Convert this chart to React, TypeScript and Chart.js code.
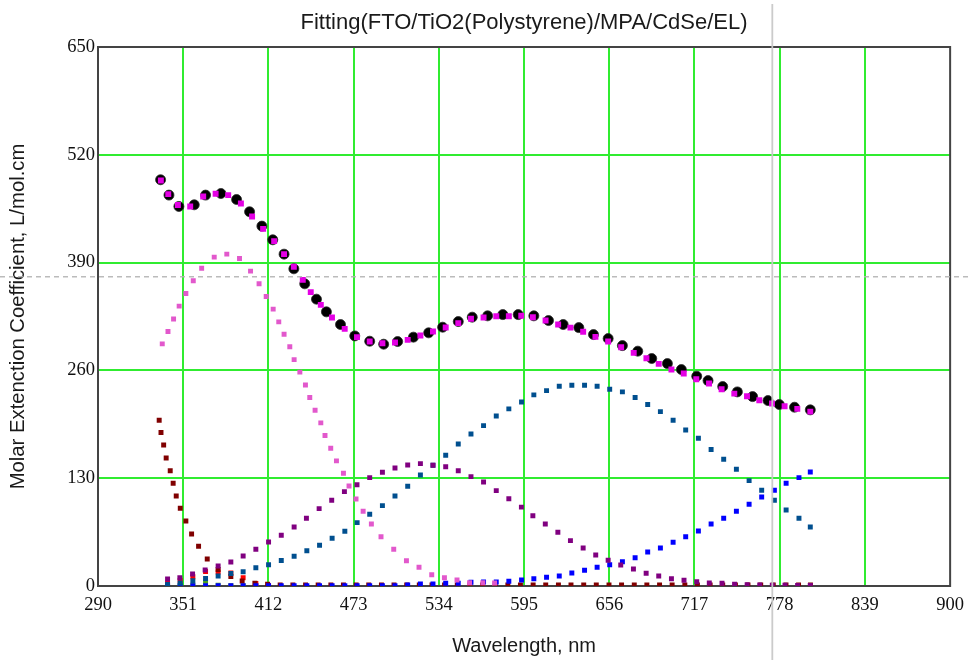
import React, { useEffect, useRef } from "react";
import { Chart, registerables } from "chart.js";

Chart.register(...registerables);

const chartTitle = "Fitting(FTO/TiO2(Polystyrene)/MPA/CdSe/EL)";
const xAxisTitle = "Wavelength, nm";
const yAxisTitle = "Molar Extenction Coefficient, L/mol.cm";
const xTickValues = [290, 351, 412, 473, 534, 595, 656, 717, 778, 839, 900];
const yTickValues = [0, 130, 260, 390, 520, 650];
const cursorNm = 772.7;
const cursorValue = 373;

// Measured spectrum (black circles)
const measuredNm = [334.8, 340.8, 347.9, 358.9, 367.0, 378.0, 389.2, 398.5, 407.3, 415.1, 423.2, 430.2, 438.0, 446.4, 453.5, 463.6, 473.8, 484.5, 494.5, 504.5, 515.8, 526.7, 536.7, 547.9, 557.9, 568.9, 579.8, 590.8, 602.0, 612.5, 623.0, 634.2, 644.7, 655.2, 665.4, 676.4, 686.4, 697.6, 707.6, 718.6, 726.7, 737.2, 747.7, 758.6, 769.6, 777.7, 788.6, 799.9];
const measuredValue = [489.9, 471.4, 457.7, 459.7, 471.4, 473.3, 466.1, 451.3, 434.0, 417.5, 400.2, 382.5, 364.4, 345.9, 330.6, 315.3, 301.6, 295.2, 291.6, 294.8, 300.1, 305.3, 312.1, 318.9, 324.2, 325.8, 327.3, 327.3, 325.8, 320.1, 315.3, 311.6, 303.2, 298.4, 289.9, 283.2, 274.3, 268.2, 261.0, 253.0, 247.7, 240.5, 234.1, 228.4, 223.6, 218.8, 215.6, 212.4];

// Fit sum (magenta squares)
const fitNm = [335.0, 340.3, 347.2, 356.0, 365.3, 374.2, 383.2, 392.3, 400.3, 408.2, 416.1, 423.2, 430.2, 436.6, 442.3, 449.5, 457.5, 466.6, 475.4, 484.5, 493.6, 502.6, 511.7, 520.8, 529.8, 538.9, 547.9, 557.0, 566.0, 575.1, 584.1, 593.0, 601.3, 610.4, 619.4, 628.2, 637.3, 646.1, 655.2, 664.5, 673.5, 682.6, 691.4, 700.5, 709.3, 718.3, 727.4, 736.4, 745.5, 754.6, 763.4, 772.5, 781.5, 790.6, 799.9];
const fitValue = [489.0, 472.6, 459.4, 457.7, 469.7, 473.0, 471.4, 461.3, 445.6, 430.7, 415.9, 400.2, 384.9, 369.2, 354.4, 339.0, 323.7, 310.1, 300.1, 294.8, 292.8, 293.6, 296.8, 302.0, 306.8, 311.7, 317.0, 322.2, 323.7, 325.4, 325.4, 325.8, 324.2, 320.1, 315.3, 311.6, 306.5, 300.4, 294.8, 288.0, 281.1, 274.7, 267.9, 261.0, 256.2, 249.4, 244.1, 237.3, 232.0, 228.9, 224.1, 220.0, 216.8, 213.6, 210.3];

// Component 1 (light pink)
const pinkNm = [336.0, 340.1, 344.1, 348.1, 352.9, 358.2, 364.2, 373.2, 382.2, 391.3, 399.2, 405.3, 410.4, 415.4, 419.4, 423.2, 427.3, 430.4, 434.5, 438.5, 441.6, 445.4, 449.5, 452.5, 456.6, 460.7, 465.7, 469.7, 474.7, 479.8, 485.7, 492.6, 501.7, 510.8, 519.8, 528.9, 538.0, 547.0, 556.0, 565.5, 573.9];
const pinkValue = [292.0, 306.8, 322.1, 337.5, 352.7, 368.0, 383.3, 396.6, 400.2, 394.9, 379.7, 364.4, 349.1, 333.9, 318.5, 303.7, 288.4, 273.0, 257.9, 242.5, 227.2, 212.0, 196.7, 181.4, 166.2, 150.9, 136.0, 120.7, 105.0, 90.1, 74.8, 59.5, 44.3, 30.5, 22.6, 13.6, 10.0, 7.2, 4.0, 4.0, 3.6];

// Component 2 (purple)
const purpleNm = [339.8, 348.6, 357.7, 366.7, 376.0, 385.1, 393.9, 403.0, 412.1, 421.2, 430.4, 439.2, 448.3, 457.3, 466.4, 475.4, 484.5, 493.6, 502.6, 511.7, 520.8, 529.8, 538.9, 547.9, 557.0, 566.0, 575.1, 584.1, 593.1, 601.3, 610.2, 619.2, 628.2, 637.3, 646.3, 655.2, 664.2, 673.3, 682.4, 691.4, 700.5, 709.5, 718.6, 727.6, 736.7, 745.7, 754.7, 763.7, 772.7, 781.8, 790.8, 799.9];
const purpleValue = [8.4, 10.0, 14.5, 19.3, 24.1, 29.0, 36.2, 44.3, 53.1, 61.3, 71.2, 81.7, 93.3, 103.4, 113.8, 122.2, 130.7, 137.2, 142.4, 146.0, 147.6, 145.6, 143.9, 139.1, 131.9, 125.5, 115.0, 105.3, 95.1, 84.8, 74.8, 64.8, 54.7, 45.8, 37.4, 31.0, 25.3, 20.5, 15.3, 12.1, 8.8, 6.9, 5.2, 3.6, 3.3, 2.1, 1.6, 1.2, 1.0, 0.8, 0.6, 0.5];

// Component 3 (dark blue)
const darkBlueNm = [339.8, 348.8, 357.9, 367.0, 376.0, 385.1, 393.9, 403.0, 412.1, 421.2, 430.4, 439.5, 448.6, 457.6, 466.7, 475.5, 484.5, 493.6, 502.6, 511.7, 520.8, 529.8, 538.9, 547.9, 557.0, 566.0, 575.1, 584.1, 593.2, 602.0, 611.1, 620.2, 629.2, 638.3, 647.3, 656.3, 665.4, 674.5, 683.5, 692.6, 701.7, 710.7, 719.8, 728.9, 737.9, 747.0, 756.1, 765.1, 774.2, 782.6, 791.8, 799.9];
const darkBlueValue = [1.8, 3.6, 6.4, 9.0, 12.1, 15.1, 17.3, 22.1, 25.7, 30.8, 35.8, 42.6, 49.1, 57.6, 66.0, 76.4, 86.5, 96.9, 108.6, 120.3, 133.9, 145.6, 157.7, 171.3, 183.4, 193.4, 205.1, 213.6, 222.0, 230.5, 235.6, 241.0, 242.2, 242.2, 241.0, 237.3, 234.1, 227.2, 218.8, 210.3, 199.9, 188.2, 178.2, 164.5, 152.9, 140.8, 127.1, 115.5, 103.4, 91.7, 81.7, 71.2];

// Component 4 (blue)
const blueNm = [339.8, 348.8, 357.9, 367.0, 376.0, 385.1, 393.9, 403.0, 412.1, 421.2, 430.4, 439.5, 448.6, 457.6, 466.7, 475.5, 484.5, 493.6, 502.6, 511.7, 520.8, 529.8, 538.9, 547.9, 557.0, 566.0, 575.1, 584.1, 593.2, 602.0, 611.1, 620.2, 629.2, 638.3, 647.3, 656.3, 665.4, 674.5, 683.5, 692.6, 701.7, 710.7, 719.8, 728.9, 737.9, 747.0, 756.1, 765.1, 774.2, 782.6, 791.8, 799.9];
const blueValue = [0.3, 0.3, 0.3, 0.3, 0.3, 0.3, 0.3, 0.3, 0.3, 0.3, 0.3, 0.3, 0.3, 0.3, 0.3, 0.3, 0.3, 0.3, 0.3, 1.2, 2.4, 2.4, 3.3, 3.3, 4.5, 4.8, 4.8, 5.7, 7.2, 8.8, 10.5, 12.1, 15.7, 18.9, 22.6, 25.7, 29.3, 34.1, 41.0, 45.8, 52.7, 59.5, 66.4, 74.8, 81.7, 90.1, 98.6, 107.4, 115.5, 123.9, 130.7, 137.5];

// Component 5 (dark red)
const darkRedNm = [333.8, 335.1, 337.0, 338.8, 341.7, 343.8, 346.0, 348.9, 352.9, 357.0, 362.0, 368.2, 376.0, 385.1, 393.2, 402.3, 411.4, 420.4, 429.5, 438.6, 447.6, 456.7, 465.7, 474.8, 483.8, 492.9, 501.9, 511.0, 520.0, 529.1, 538.1, 547.2, 556.2, 565.3, 574.3, 583.4, 592.4, 601.5, 610.5, 619.6, 628.6, 637.7, 646.7, 655.8, 664.8, 673.9, 682.9, 692.0, 701.0, 710.1, 719.1, 728.2, 737.2, 746.3, 755.3, 764.4, 773.4, 782.5, 791.5, 800.0];
const darkRedValue = [199.9, 185.0, 170.1, 154.4, 139.1, 123.9, 108.6, 93.8, 78.4, 62.7, 47.9, 32.6, 19.9, 11.5, 6.0, 3.3, 2.1, 1.2, 1.2, 1.2, 1.2, 1.2, 1.2, 1.2, 1.2, 1.2, 1.2, 1.2, 1.2, 1.2, 1.2, 1.2, 1.2, 1.2, 1.2, 1.2, 1.2, 1.2, 1.2, 1.2, 1.2, 1.2, 1.2, 1.2, 1.2, 1.2, 1.2, 1.2, 1.2, 1.2, 1.2, 1.2, 1.2, 1.2, 1.2, 1.2, 1.2, 1.2, 1.2, 1.2];

// Component 6 (red)
const redNm = [339.8, 348.8, 357.9, 367.0, 376.0, 385.1, 393.9, 403.0, 412.1];
const redValue = [3.6, 6.6, 11.2, 17.5, 16.9, 15.7, 10.0, 3.0, 0.6];

// Component 7 (green)
const greenNm = [339.8, 348.8, 357.9, 367.0, 376.0, 385.1, 393.9, 403.0];
const greenValue = [0.5, 0.5, 0.8, 5.0, 0.8, 0.3, 0.3, 0.3];

const pts = (xs: number[], ys: number[]) => xs.map((x, i) => ({ x, y: ys[i] }));

const GRID_GREEN = "rgb(48,236,48)";
const AXIS_DARK = "#444444";

const framePlugin = {
  id: "frameAndCursor",
  beforeDatasetsDraw(chart: any) {
    const { ctx, chartArea } = chart;
    const { left, right, top, bottom } = chartArea;
    ctx.save();
    ctx.strokeStyle = AXIS_DARK;
    ctx.lineWidth = 2;
    ctx.beginPath();
    ctx.moveTo(left - 1, top);
    ctx.lineTo(right, top);
    ctx.lineTo(right, bottom + 1);
    ctx.stroke();
    ctx.restore();
  },
  afterDraw(chart: any) {
    const { ctx, width, height } = chart;
    const x = chart.scales.x.getPixelForValue(cursorNm);
    const y = chart.scales.y.getPixelForValue(cursorValue);
    ctx.save();
    ctx.strokeStyle = "rgba(180,180,180,0.9)";
    ctx.lineWidth = 1.5;
    ctx.setLineDash([5, 4]);
    ctx.beginPath();
    ctx.moveTo(0, y);
    ctx.lineTo(width, y);
    ctx.stroke();
    ctx.setLineDash([]);
    ctx.strokeStyle = "rgba(200,200,200,0.95)";
    ctx.lineWidth = 1.8;
    ctx.beginPath();
    ctx.moveTo(x, 4);
    ctx.lineTo(x, height);
    ctx.stroke();
    ctx.restore();
  },
};

const gridColor = (edgeA: number, edgeB: number) => (c: any) => {
  const v = c.tick ? c.tick.value : null;
  return v === edgeA || v === edgeB ? "rgba(0,0,0,0)" : GRID_GREEN;
};

export default function App() {
  const canvasRef = useRef<HTMLCanvasElement | null>(null);

  useEffect(() => {
    if (!canvasRef.current) return;
    const sq = (label: string, xs: number[], ys: number[], color: string, order: number, radius = 3.5) => ({
      label,
      data: pts(xs, ys),
      showLine: false,
      pointStyle: "rect",
      pointRadius: radius,
      pointBorderWidth: 0,
      pointBackgroundColor: color,
      pointBorderColor: color,
      order,
    });

    const chart = new Chart(canvasRef.current, {
      type: "scatter",
      data: {
        datasets: [
          sq("Fit", fitNm, fitValue, "#E400E4", 0, 4.2),
          {
            label: "Measured",
            data: pts(measuredNm, measuredValue),
            showLine: false,
            pointStyle: "circle",
            pointRadius: 5,
            pointBorderWidth: 0.8,
            pointBackgroundColor: "#000000",
            pointBorderColor: "#2a2a2a",
            order: 1,
          },
          sq("Peak 2", purpleNm, purpleValue, "#800080", 2),
          sq("Peak 1", pinkNm, pinkValue, "#E258CC", 3),
          sq("Peak 3", darkBlueNm, darkBlueValue, "#004F8F", 4),
          sq("Peak 4", blueNm, blueValue, "#0000FF", 5),
          sq("Peak 5", darkRedNm, darkRedValue, "#800000", 6),
          sq("Peak 6", redNm, redValue, "#FF0000", 7),
          sq("Peak 7", greenNm, greenValue, "#4CA020", 8),
        ] as any,
      },
      options: {
        animation: false,
        responsive: false,
        maintainAspectRatio: false,
        layout: { padding: { left: 0, right: 21, top: 0, bottom: 0 } },
        plugins: {
          legend: { display: false },
          tooltip: { enabled: false },
          title: {
            display: true,
            text: chartTitle,
            fullSize: false,
            color: "#1a1a1a",
            font: { family: "'Liberation Sans', Arial, sans-serif", size: 22, weight: "normal" },
            padding: { top: 9.5, bottom: 11.1 },
          },
        },
        scales: {
          x: {
            type: "linear",
            min: 290,
            max: 900,
            afterBuildTicks: (s: any) => {
              s.ticks = xTickValues.map((v) => ({ value: v }));
            },
            afterFit: (s: any) => {
              s.height = 74;
            },
            grid: { color: gridColor(290, 900), lineWidth: 2, drawTicks: false },
            border: { display: true, color: AXIS_DARK, width: 2 },
            ticks: {
              padding: 8,
              color: "#111111",
              autoSkip: false,
              maxRotation: 0,
              font: { family: "'Liberation Serif', 'Times New Roman', serif", size: 18.5 },
              callback: (v: any) => String(v),
            },
            title: {
              display: true,
              text: xAxisTitle,
              color: "#1a1a1a",
              font: { family: "'Liberation Sans', Arial, sans-serif", size: 20 },
              padding: { top: 0, bottom: 2 },
            },
          },
          y: {
            type: "linear",
            min: 0,
            max: 650,
            afterBuildTicks: (s: any) => {
              s.ticks = yTickValues.map((v) => ({ value: v }));
            },
            afterFit: (s: any) => {
              s.width = 98;
            },
            grid: { color: gridColor(0, 650), lineWidth: 2, drawTicks: false },
            border: { display: true, color: AXIS_DARK, width: 2 },
            ticks: {
              padding: 3,
              color: "#111111",
              autoSkip: false,
              font: { family: "'Liberation Serif', 'Times New Roman', serif", size: 18.5 },
              callback: (v: any) => String(v),
            },
            title: {
              display: true,
              text: yAxisTitle,
              color: "#1a1a1a",
              font: { family: "'Liberation Sans', Arial, sans-serif", size: 20.3 },
              padding: { top: 6.2, bottom: 0 },
            },
          },
        },
      } as any,
      plugins: [framePlugin as any],
    });
    return () => chart.destroy();
  }, []);

  return (
    <div style={{ position: "absolute", left: 0, top: 0, width: 972, height: 660, background: "#ffffff" }}>
      <canvas ref={canvasRef} width={972} height={660} style={{ display: "block", width: 972, height: 660 }} />
    </div>
  );
}
